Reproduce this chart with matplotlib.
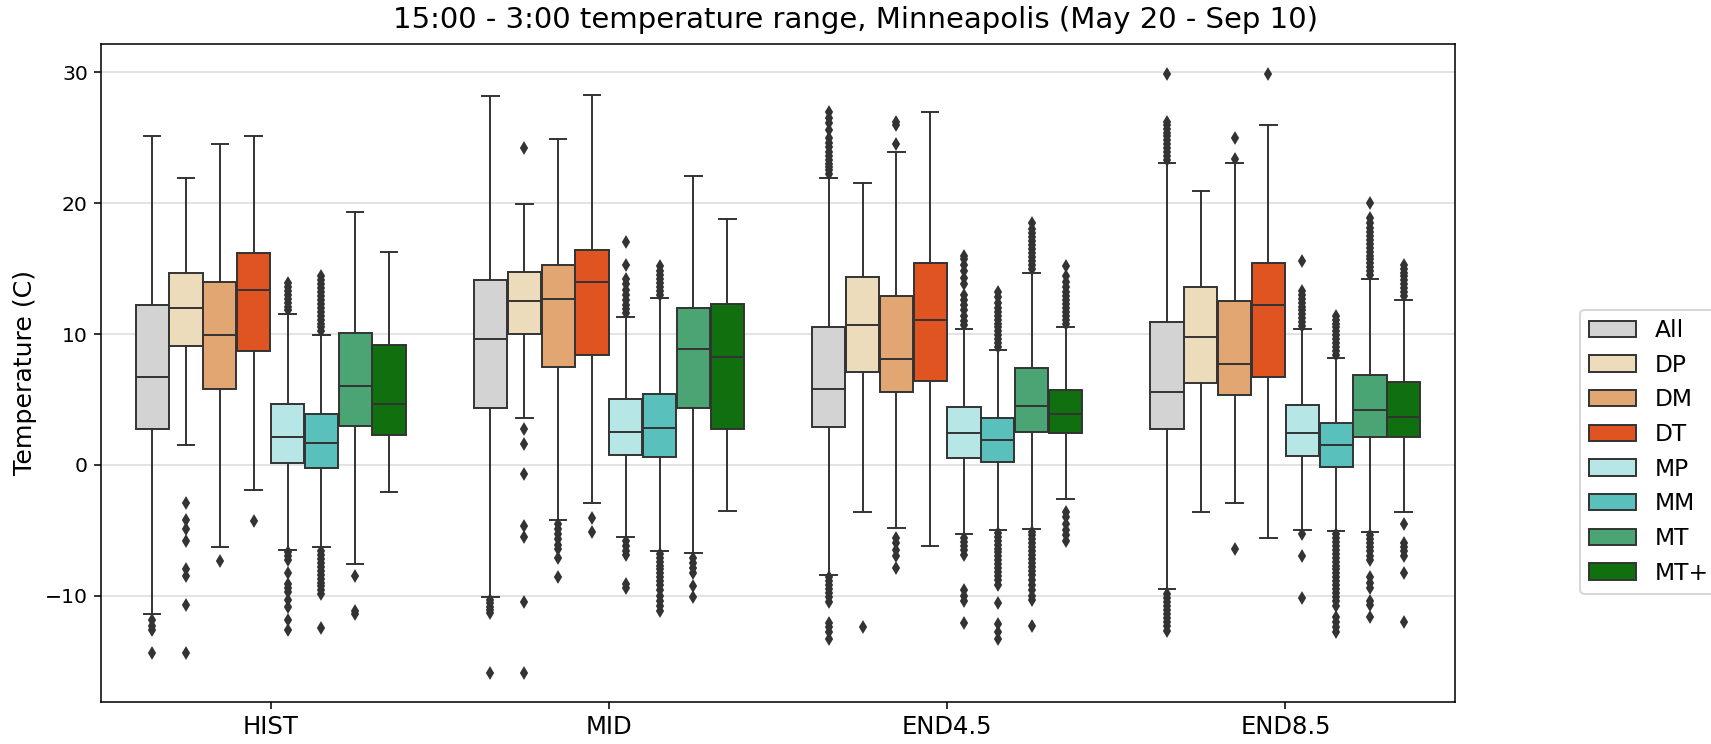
import numpy as np
import matplotlib
matplotlib.use("Agg")
import matplotlib.pyplot as plt
import matplotlib.patches as mpatches
import seaborn as sns

periods = ["HIST", "MID", "END4.5", "END8.5"]
types = ["All", "DP", "DM", "DT", "MP", "MM", "MT", "MT+"]
base_colors = ["lightgray", "wheat", "sandybrown", "orangered",
               "paleturquoise", "mediumturquoise", "mediumseagreen", "green"]

# box statistics per weather type, one value per period
whislo = {
    "All": [-11.4, -10.1, -8.4, -9.5],
    "DP": [1.5, 3.6, -3.6, -3.6],
    "DM": [-6.3, -4.2, -4.8, -2.95],
    "DT": [-1.9, -2.9, -6.2, -5.6],
    "MP": [-6.5, -5.5, -5.3, -5.0],
    "MM": [-6.3, -6.6, -5.0, -5.05],
    "MT": [-7.55, -6.75, -4.9, -5.1],
    "MT+": [-2.1, -3.5, -2.65, -3.6],
}
q1 = {
    "All": [2.75, 4.35, 2.9, 2.75],
    "DP": [9.05, 10.0, 7.1, 6.25],
    "DM": [5.8, 7.5, 5.6, 5.3],
    "DT": [8.7, 8.4, 6.4, 6.75],
    "MP": [0.15, 0.75, 0.55, 0.65],
    "MM": [-0.25, 0.6, 0.2, -0.15],
    "MT": [3.0, 4.35, 2.5, 2.1],
    "MT+": [2.3, 2.75, 2.4, 2.15],
}
med = {
    "All": [6.75, 9.6, 5.8, 5.6],
    "DP": [12.0, 12.5, 10.7, 9.75],
    "DM": [9.9, 12.65, 8.1, 7.7],
    "DT": [13.35, 14.0, 11.05, 12.2],
    "MP": [2.1, 2.5, 2.4, 2.4],
    "MM": [1.7, 2.8, 1.9, 1.5],
    "MT": [6.0, 8.85, 4.5, 4.2],
    "MT+": [4.65, 8.25, 3.85, 3.65],
}
q3 = {
    "All": [12.2, 14.1, 10.5, 10.9],
    "DP": [14.7, 14.75, 14.35, 13.6],
    "DM": [14.0, 15.3, 12.9, 12.5],
    "DT": [16.2, 16.4, 15.4, 15.45],
    "MP": [4.65, 5.05, 4.45, 4.55],
    "MM": [3.85, 5.45, 3.6, 3.2],
    "MT": [10.1, 12.0, 7.4, 6.9],
    "MT+": [9.15, 12.3, 5.75, 6.3],
}
whishi = {
    "All": [25.1, 28.2, 21.9, 23.1],
    "DP": [21.95, 19.9, 21.55, 20.9],
    "DM": [24.55, 24.9, 23.9, 23.05],
    "DT": [25.1, 28.25, 26.95, 26.0],
    "MP": [11.5, 11.3, 10.4, 10.35],
    "MM": [9.95, 12.75, 8.75, 8.2],
    "MT": [19.3, 22.1, 14.7, 14.2],
    "MT+": [16.25, 18.8, 10.5, 12.6],
}
fliers = {
    "All": [
        [-11.9, -12.3, -12.6, -14.4],
        [-10.3, -10.6, -10.9, -11.1, -11.3, -15.9],
        [22.2, 22.5, 22.8, 23.0, 23.3, 23.6, 23.9, 24.3, 24.6, 25.0, 25.6, 26.1, 26.5, 27.0,
         -8.6, -8.9, -9.2, -9.5, -9.8, -10.1, -10.5, -12.1, -12.4, -12.8, -13.3],
        [23.3, 23.6, 23.9, 24.2, 24.5, 24.8, 25.1, 25.4, 25.7, 26.0, 26.2, 29.9,
         -9.9, -10.2, -10.5, -10.8, -11.1, -11.4, -11.7, -12.0, -12.3, -12.7],
    ],
    "DP": [
        [-2.9, -4.2, -4.9, -5.8, -8.0, -8.5, -10.7, -14.4],
        [24.2, 2.7, 1.6, -0.7, -4.7, -5.5, -10.5, -15.9],
        [-12.4],
        [],
    ],
    "DM": [
        [-7.35],
        [-4.5, -4.9, -5.3, -5.7, -6.1, -6.4, -7.1, -8.6],
        [24.5, 26.0, 26.2, -5.6, -6.0, -6.5, -7.0, -7.9],
        [23.4, 25.0, -6.45],
    ],
    "DT": [
        [-4.3],
        [-4.1, -5.1],
        [],
        [29.9],
    ],
    "MP": [
        [11.8, 12.1, 12.4, 12.7, 13.0, 13.3, 13.6, 13.9,
         -6.7, -7.0, -7.3, -8.3, -9.1, -9.4, -9.7, -10.3, -10.9, -11.9, -12.6],
        [11.6, 11.9, 12.2, 12.6, 13.0, 13.4, 13.8, 14.2, 15.25, 17.0,
         -5.8, -6.2, -6.6, -6.9, -9.1, -9.4],
        [10.7, 11.0, 11.4, 11.8, 12.2, 12.6, 13.0, 13.8, 14.3, 14.8, 15.3, 15.7, 16.0,
         -5.6, -5.9, -6.2, -6.5, -6.9, -9.6, -10.0, -10.4, -12.1],
        [10.6, 10.9, 11.2, 11.5, 11.8, 12.1, 12.4, 12.7, 13.0, 13.3, 15.6,
         -5.3, -6.95, -10.2],
    ],
    "MM": [
        [10.2, 10.5, 10.8, 11.1, 11.4, 11.7, 12.0, 12.3, 12.6, 12.9, 13.2, 13.5, 13.8, 14.1, 14.4,
         -6.6, -6.9, -7.2, -7.5, -7.8, -8.1, -8.4, -8.7, -9.0, -9.3, -9.6, -9.9, -12.5],
        [13.0, 13.3, 13.6, 13.9, 14.2, 14.5, 14.8, 15.2,
         -6.8, -7.1, -7.4, -7.7, -8.0, -8.3, -8.6, -8.9, -9.2, -9.6, -10.0, -10.4, -10.8, -11.2],
        [9.0, 9.3, 9.6, 9.9, 10.2, 10.5, 10.8, 11.1, 11.4, 11.7, 12.0, 12.4, 12.8, 13.2,
         -5.2, -5.5, -5.8, -6.1, -6.4, -6.7, -7.0, -7.3, -7.6, -7.9, -8.2, -8.5, -8.8, -9.2,
         -10.6, -12.2, -12.8, -13.3],
        [8.4, 8.7, 9.0, 9.3, 9.6, 9.9, 10.2, 10.5, 10.8, 11.1, 11.4,
         -5.3, -5.6, -5.9, -6.2, -6.5, -6.8, -7.1, -7.4, -7.7, -8.0, -8.3, -8.6, -8.9, -9.2,
         -9.5, -9.8, -10.1, -10.4, -10.8, -11.6, -12.0, -12.4, -12.8],
    ],
    "MT": [
        [-8.5, -11.2, -11.4],
        [-7.1, -7.5, -7.9, -8.3, -9.3, -10.1],
        [15.0, 15.3, 15.6, 15.9, 16.2, 16.5, 16.8, 17.1, 17.4, 17.7, 18.0, 18.5,
         -5.1, -5.4, -5.7, -6.0, -6.3, -6.6, -6.9, -7.2, -7.5, -7.8, -8.1, -8.4, -8.8,
         -9.2, -9.6, -10.0, -10.3, -12.35],
        [14.5, 14.8, 15.1, 15.4, 15.7, 16.0, 16.3, 16.6, 16.9, 17.2, 17.5, 17.8, 18.1,
         18.5, 18.9, 20.0,
         -5.4, -5.7, -6.0, -6.3, -6.6, -7.0, -7.3, -8.6, -9.0, -9.4, -10.4, -10.7, -11.6],
    ],
    "MT+": [
        [],
        [],
        [10.8, 11.1, 11.4, 11.7, 12.0, 12.3, 12.6, 12.9, 13.2, 13.6, 14.0, 14.4, 15.2,
         -3.6, -4.0, -4.5, -5.0, -5.4, -5.8],
        [12.9, 13.2, 13.5, 13.8, 14.1, 14.4, 14.7, 15.0, 15.3,
         -4.5, -6.0, -6.3, -6.6, -6.95, -8.3, -12.0],
    ],
}

colors = [sns.desaturate(c, 0.75) for c in base_colors]
gray = "#333333"
lw = 1.0

fig = plt.figure(figsize=(1711 / 140, 744 / 140), dpi=140)
ax = fig.add_axes([0.0593, 0.057, 0.7908, 0.8844])

n = len(types)
box_w = 0.8 / n
for j, t in enumerate(types):
    stats = []
    for i in range(len(periods)):
        stats.append(dict(whislo=whislo[t][i], q1=q1[t][i], med=med[t][i],
                          q3=q3[t][i], whishi=whishi[t][i], fliers=fliers[t][i]))
    pos = np.arange(len(periods)) + (j - (n - 1) / 2) * box_w
    ax.bxp(stats, positions=pos, widths=box_w * 0.98, patch_artist=True,
           manage_ticks=False,
           boxprops=dict(facecolor=colors[j], edgecolor=gray, linewidth=lw),
           medianprops=dict(color=gray, linewidth=lw),
           whiskerprops=dict(color=gray, linewidth=lw),
           capprops=dict(color=gray, linewidth=lw),
           flierprops=dict(marker="d", markersize=4, markerfacecolor=gray,
                           markeredgecolor=gray, linestyle="none"))

ax.set_xlim(-0.5, len(periods) - 0.5)
ax.set_ylim(-18.1, 32.2)
ax.set_xticks(range(len(periods)))
ax.set_xticklabels(periods, fontsize=12.5)
ax.set_yticks([-10, 0, 10, 20, 30])
ax.tick_params(axis="y", labelsize=10.5)
ax.set_axisbelow(True)
ax.yaxis.grid(True, color="#e3e3e3", linewidth=1)
ax.set_ylabel("Temperature (C)", fontsize=13)
fig.suptitle("15:00 - 3:00 temperature range, Minneapolis (May 20 - Sep 10)",
             fontsize=15, y=0.9737, va="center")

handles = [mpatches.Patch(facecolor=c, edgecolor=gray, linewidth=lw, label=t)
           for c, t in zip(colors, types)]
fig.legend(handles=handles, loc="center left", bbox_to_anchor=(0.9234, 0.3925),
           borderaxespad=0, fontsize=12)

fig.savefig("out.png", dpi=140)
